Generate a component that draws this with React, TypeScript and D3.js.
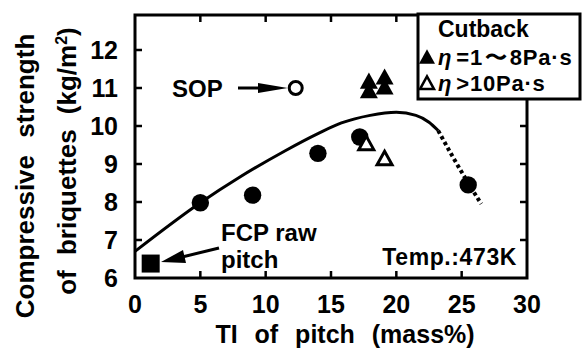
import React from 'react';
import * as d3 from 'd3';

const W = 584, H = 349;
const xTicks = [0, 5, 10, 15, 20, 25, 30];
const yTicks = [6, 7, 8, 9, 10, 11, 12];
const circleX = [5, 9, 14, 17.2, 25.5];
const circleY = [7.98, 8.18, 9.28, 9.71, 8.45];
const rawPitchX = [1.2];
const rawPitchY = [6.38];
const sopX = [12.3];
const sopY = [11.0];
const lowViscX = [17.9, 17.9, 19.1, 19.1];
const lowViscY = [10.9, 11.15, 11.0, 11.26];
const highViscX = [17.7, 19.1];
const highViscY = [9.52, 9.12];
const curveSolid: [number, number][] = [[0, 6.7], [5, 7.98], [8, 8.65], [11.5, 9.35], [14, 9.8], [15.8, 10.08], [18, 10.28], [20, 10.36], [21.5, 10.28], [22.5, 10.1], [23.2, 9.88]];
const curveDotted: [number, number][] = [[23.2, 9.88], [24.3, 9.2], [25.5, 8.5], [26.5, 7.95]];

const FONT = '"Liberation Sans", Arial, Helvetica, sans-serif';

export default function App() {
  const left = 135, right = 527, top = 15, bottom = 278;
  const x = d3.scaleLinear().domain([0, 30]).range([left, right]);
  const y = d3.scaleLinear().domain([6, 12]).range([bottom, 50]);
  const line = d3.line<[number, number]>().x(d => x(d[0])).y(d => y(d[1])).curve(d3.curveMonotoneX);
  const tri = (cx: number, cy: number, s: number) => {
    const h = s * 0.9;
    return `M${cx},${cy - h * 0.6}L${cx + s / 2},${cy + h * 0.4}L${cx - s / 2},${cy + h * 0.4}Z`;
  };
  const tk = 7;
  const legX = 418, legY = 14, legW = 162, legH = 85;
  return (
    <svg width={W} height={H} style={{ position: 'absolute', left: 0, top: 0, background: '#fff' }} fontFamily={FONT}>
      <rect x={0} y={0} width={W} height={H} fill="#fff" />
      {/* frame */}
      <rect x={left} y={top} width={right - left} height={bottom - top} fill="none" stroke="#000" strokeWidth={3} />
      {/* ticks */}
      {xTicks.slice(1, -1).map(t => (
        <g key={'xt' + t}>
          <line x1={x(t)} x2={x(t)} y1={bottom} y2={bottom - tk} stroke="#000" strokeWidth={2.5} />
          <line x1={x(t)} x2={x(t)} y1={top} y2={top + tk} stroke="#000" strokeWidth={2.5} />
        </g>
      ))}
      {yTicks.slice(1).map(t => (
        <g key={'yt' + t}>
          <line x1={left} x2={left + tk} y1={y(t)} y2={y(t)} stroke="#000" strokeWidth={2.5} />
          <line x1={right} x2={right - tk} y1={y(t)} y2={y(t)} stroke="#000" strokeWidth={2.5} />
        </g>
      ))}
      {/* tick labels */}
      {xTicks.map(t => (
        <text key={'xl' + t} x={x(t)} y={313} textAnchor="middle" fontSize={25} fontWeight="bold" fill="#000">{t}</text>
      ))}
      {yTicks.map(t => (
        <text key={'yl' + t} x={118} y={y(t) + 9} textAnchor="end" fontSize={25} fontWeight="bold" fill="#000">{t}</text>
      ))}
      {/* axis titles */}
      <text x={345} y={343} textAnchor="middle" fontSize={25} fontWeight="bold" wordSpacing={10} fill="#000">TI of pitch (mass%)</text>
      <text transform="translate(34,176) rotate(-90)" textAnchor="middle" fontSize={26} fontWeight="bold" wordSpacing={10} fill="#000">Compressive strength</text>
      <text transform="translate(76,161) rotate(-90)" textAnchor="middle" fontSize={26} fontWeight="bold" fill="#000">
        <tspan wordSpacing={8}>of briquettes </tspan>(kg/m<tspan fontSize={16} dy={-9}>2</tspan><tspan dy={9}>)</tspan>
      </text>
      {/* curve */}
      <path d={line(curveSolid) || ''} fill="none" stroke="#000" strokeWidth={3} />
      <path d={line(curveDotted) || ''} fill="none" stroke="#000" strokeWidth={4} strokeDasharray="3.5 3" />
      {/* markers */}
      {circleX.map((v, i) => (
        <circle key={'c' + i} cx={x(v)} cy={y(circleY[i])} r={8.7} fill="#000" />
      ))}
      {rawPitchX.map((v, i) => (
        <rect key={'s' + i} x={x(v) - 9} y={y(rawPitchY[i]) - 9} width={18} height={18} fill="#000" />
      ))}
      {sopX.map((v, i) => (
        <circle key={'o' + i} cx={x(v)} cy={y(sopY[i])} r={6.5} fill="#fff" stroke="#000" strokeWidth={3} />
      ))}
      {lowViscX.map((v, i) => (
        <path key={'lt' + i} d={tri(x(v), y(lowViscY[i]), 18)} fill="#000" />
      ))}
      {highViscX.map((v, i) => (
        <path key={'ht' + i} d={tri(x(v), y(highViscY[i]), 15)} fill="#fff" stroke="#000" strokeWidth={3} strokeLinejoin="miter" />
      ))}
      {/* SOP annotation */}
      <text x={172} y={97} fontSize={24} fontWeight="bold" fill="#000">SOP</text>
      <line x1={238} x2={262} y1={y(11)} y2={y(11)} stroke="#000" strokeWidth={3} />
      <path d={`M258,${y(11) - 5}L${x(12.3) - 8},${y(11)}L258,${y(11) + 5}Z`} fill="#000" />
      {/* FCP annotation */}
      <text x={221} y={241} fontSize={24} fontWeight="bold" fill="#000">FCP raw</text>
      <text x={221} y={268} fontSize={24} fontWeight="bold" fill="#000">pitch</text>
      <line x1={219} x2={178} y1={248} y2={258} stroke="#000" strokeWidth={3} />
      <path d="M161,262 L183,250 L186,263 Z" fill="#000" />
      {/* temp */}
      <text x={517} y={265} textAnchor="end" fontSize={23} fontWeight="bold" letterSpacing={0.6} fill="#000">Temp.:473K</text>
      {/* legend */}
      <rect x={legX} y={legY} width={legW} height={legH} fill="#fff" stroke="#000" strokeWidth={3} />
      <text x={438} y={37} fontSize={23} fontWeight="bold" fill="#000">Cutback</text>
      <path d={tri(427, 58, 16)} fill="#000" />
      <text x={438} y={65} fontSize={22} fontWeight="bold" letterSpacing={0.8} fill="#000">
        <tspan fontStyle="italic">η</tspan><tspan dx={4}>=1</tspan><tspan dx={2}>〜</tspan><tspan dx={2}>8Pa·s</tspan>
      </text>
      <path d={tri(427, 84, 14)} fill="#fff" stroke="#000" strokeWidth={2.5} />
      <text x={438} y={91} fontSize={22} fontWeight="bold" letterSpacing={0.8} fill="#000">
        <tspan fontStyle="italic">η</tspan><tspan dx={4}>&gt;10Pa·s</tspan>
      </text>
    </svg>
  );
}
